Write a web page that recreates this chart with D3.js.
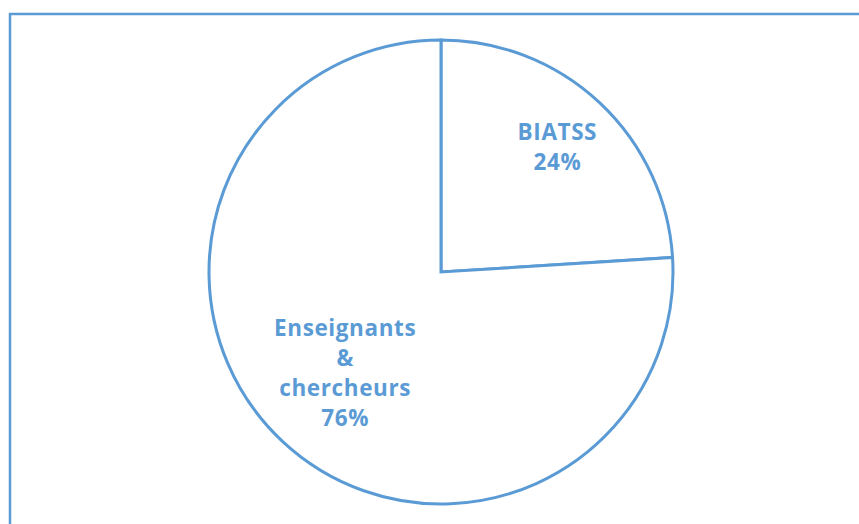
<!DOCTYPE html>
<html>
<head>
<meta charset="utf-8">
<script src="https://cdn.jsdelivr.net/npm/d3@7"></script>
<style>
  body { margin: 0; background: #fff; }
  svg { display: block; }
</style>
</head>
<body>
<svg id="chart" width="859" height="524"></svg>
<script>
const categories = ["BIATSS", "Enseignants\n&\nchercheurs"];
const values = [24, 76];
const labels = ["24%", "76%"];

const svg = d3.select("#chart");
const width = 859, height = 524;
const color = "#5b9bd5";

// chart frame (runs off the right and bottom edge)
svg.append("rect")
    .attr("x", 10).attr("y", 14)
    .attr("width", width + 10).attr("height", height + 10)
    .attr("fill", "none").attr("stroke", color).attr("stroke-width", 2.5);

const cx = 441, cy = 272, radius = 232;
const g = svg.append("g").attr("transform", `translate(${cx},${cy})`);

const pie = d3.pie().sort(null).value(d => d);
const arcs = pie(values);
const arc = d3.arc().innerRadius(0).outerRadius(radius);

g.selectAll("path.slice").data(arcs).enter().append("path")
    .attr("class", "slice")
    .attr("d", arc)
    .attr("fill", "#fff")
    .attr("stroke", color)
    .attr("stroke-width", 3)
    .attr("stroke-linejoin", "miter");

const labelRadius = [170, 140];
const lineH = 30;
arcs.forEach((a, i) => {
    const la = d3.arc().innerRadius(labelRadius[i]).outerRadius(labelRadius[i]);
    const [x, y] = la.centroid(a);
    const lines = categories[i].split("\n").concat([labels[i]]);
    const t = g.append("text")
        .attr("text-anchor", "middle")
        .attr("font-family", "'Open Sans', sans-serif")
        .attr("font-weight", "bold")
        .attr("font-size", 22.5)
        .attr("letter-spacing", 0.6)
        .attr("fill", color);
    const y0 = y - (lines.length - 1) * lineH / 2 + 7;
    lines.forEach((s, j) => {
        t.append("tspan").attr("x", x).attr("y", y0 + j * lineH).text(s);
    });
});
</script>
</body>
</html>
